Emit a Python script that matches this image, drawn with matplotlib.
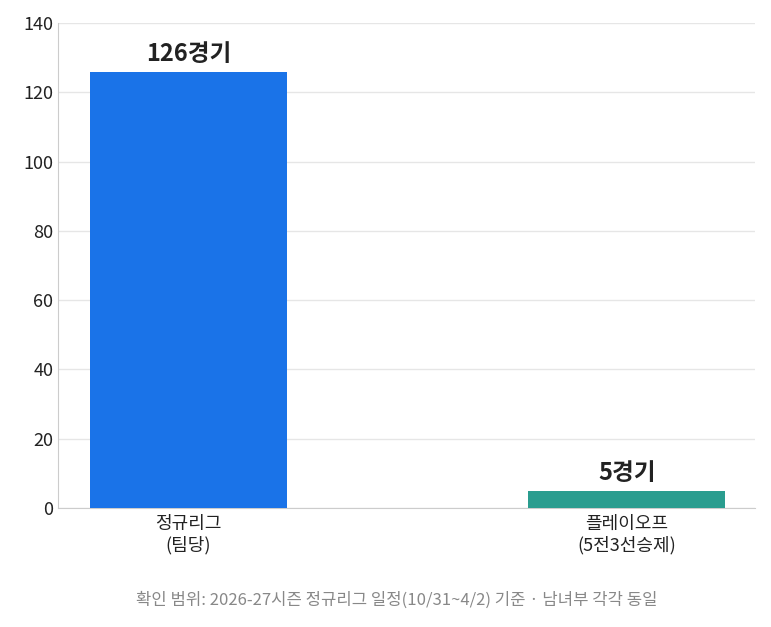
import matplotlib
matplotlib.use("Agg")
import matplotlib.pyplot as plt

plt.rcParams['font.family'] = ['Noto Sans CJK KR', 'DejaVu Sans']

categories = ['정규리그\n(팀당)', '플레이오프\n(5전3선승제)']
games = [126, 5]
value_labels = ['126경기', '5경기']
colors = ['#1a73e8', '#2a9d8f']

fig = plt.figure(figsize=(7.71, 6.27), dpi=100)
ax = fig.add_axes([58 / 771, 1 - 508 / 627, 697 / 771, 485 / 627])

x = range(len(categories))
bars = ax.bar(x, games, width=0.45, color=colors, zorder=3)
for b, lab in zip(bars, value_labels):
    ax.text(b.get_x() + b.get_width() / 2, b.get_height() + 1.5, lab,
            ha='center', va='bottom', fontsize=17, fontweight='bold', color='#222222')

ax.set_xlim(-0.298, 1.293)
ax.set_ylim(0, 140)
ax.set_yticks(range(0, 141, 20))
ax.set_xticks(list(x))
ax.set_xticklabels(categories, fontsize=13, color='#222222', linespacing=1.2)
ax.tick_params(axis='y', labelsize=13, colors='#222222', length=0)
ax.tick_params(axis='x', length=0, pad=5)
ax.grid(axis='y', color='#e6e6e6', linewidth=1, zorder=0)
for s in ['top', 'right']:
    ax.spines[s].set_visible(False)
ax.spines['left'].set_color('#cccccc')
ax.spines['bottom'].set_color('#cccccc')

fig.text(397 / 771, 1 - 600 / 627,
         '확인 범위: 2026-27시즌 정규리그 일정(10/31~4/2) 기준 · 남녀부 각각 동일',
         ha='center', va='center', fontsize=12, color='#888888')

fig.savefig('out.png', dpi=100)
